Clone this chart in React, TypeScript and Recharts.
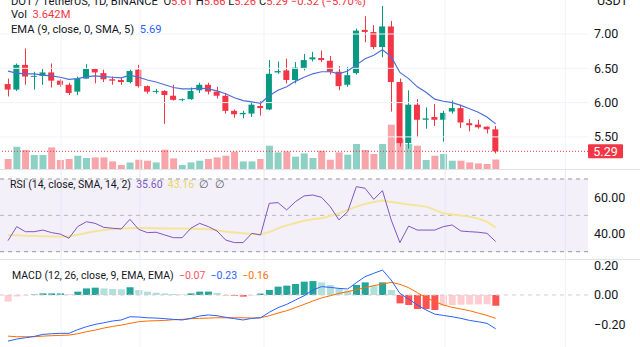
import React from 'react';
import { ComposedChart, Bar, Line, XAxis, YAxis, ReferenceLine, ReferenceArea, Cell } from 'recharts';

// DOT / USDT daily candles
const opens = [6.27, 6.19, 6.55, 6.38, 6.39, 6.44, 6.32, 6.26, 6.16, 6.35, 6.49, 6.43, 6.34, 6.33, 6.30, 6.48, 6.24, 6.16, 6.17, 6.10, 6.04, 6.05, 6.18, 6.26, 6.16, 6.10, 5.88, 5.83, 5.84, 5.95, 5.90, 6.44, 6.47, 6.33, 6.50, 6.63, 6.65, 6.61, 6.45, 6.26, 6.43, 7.06, 7.03, 6.81, 7.11, 6.30, 5.41, 5.97, 5.75, 5.79, 5.75, 5.87, 5.92, 5.70, 5.68, 5.65, 5.61];
const highs = [6.35, 6.57, 6.79, 6.45, 6.49, 6.57, 6.34, 6.29, 6.38, 6.56, 6.50, 6.48, 6.38, 6.37, 6.48, 6.55, 6.25, 6.20, 6.18, 6.26, 6.06, 6.22, 6.29, 6.29, 6.23, 6.14, 5.90, 5.88, 6.01, 6.02, 6.62, 6.60, 6.64, 6.59, 6.71, 6.74, 6.76, 6.68, 6.53, 6.52, 7.08, 7.26, 7.13, 7.41, 7.19, 6.35, 6.18, 6.05, 5.93, 5.98, 5.88, 6.03, 5.97, 5.76, 5.75, 5.65, 5.66];
const lows = [6.09, 6.17, 6.26, 6.19, 6.26, 6.22, 6.23, 6.11, 6.11, 6.35, 6.28, 6.30, 6.26, 6.26, 6.28, 6.22, 6.13, 6.13, 5.69, 6.03, 6.02, 6.04, 6.14, 6.12, 6.06, 5.84, 5.78, 5.77, 5.79, 5.81, 5.89, 6.42, 6.28, 6.28, 6.47, 6.60, 6.59, 6.41, 6.18, 6.23, 6.41, 6.88, 6.78, 6.66, 5.87, 5.36, 5.33, 5.50, 5.62, 5.66, 5.43, 5.84, 5.63, 5.58, 5.62, 5.55, 5.26];
const closes = [6.19, 6.55, 6.38, 6.39, 6.44, 6.32, 6.26, 6.14, 6.35, 6.49, 6.44, 6.34, 6.32, 6.30, 6.46, 6.24, 6.16, 6.17, 6.11, 6.04, 6.05, 6.17, 6.26, 6.16, 6.10, 5.88, 5.83, 5.85, 5.97, 5.92, 6.42, 6.46, 6.33, 6.51, 6.62, 6.66, 6.62, 6.45, 6.24, 6.40, 7.05, 7.03, 6.81, 7.11, 6.30, 5.41, 5.97, 5.75, 5.77, 5.75, 5.85, 5.92, 5.71, 5.67, 5.64, 5.61, 5.29];
// volume in millions
const volumes = [3.83, 8.54, 7.28, 5.36, 5.36, 8.27, 3.45, 3.83, 5.09, 4.21, 4.44, 4.44, 2.91, 1.53, 2.53, 3.56, 3.18, 2.53, 7.39, 4.06, 1.53, 2.53, 3.18, 3.83, 4.44, 5.09, 6.63, 2.91, 2.91, 3.83, 8.92, 6.36, 6.74, 4.71, 5.97, 4.21, 7.01, 3.56, 6.36, 5.48, 9.58, 7.28, 5.75, 9.58, 16.97, 11.49, 9.58, 8.92, 3.45, 5.09, 5.75, 3.18, 3.18, 2.53, 2.14, 1.92, 3.64];
const ema9 = [6.46, 6.43, 6.42, 6.42, 6.40, 6.39, 6.37, 6.34, 6.35, 6.38, 6.39, 6.38, 6.37, 6.36, 6.40, 6.37, 6.33, 6.30, 6.26, 6.22, 6.20, 6.20, 6.21, 6.20, 6.17, 6.13, 6.07, 6.03, 6.01, 5.99, 6.10, 6.18, 6.23, 6.31, 6.37, 6.42, 6.45, 6.45, 6.42, 6.46, 6.55, 6.64, 6.69, 6.77, 6.67, 6.44, 6.35, 6.23, 6.15, 6.05, 6.02, 6.00, 5.96, 5.91, 5.86, 5.79, 5.69];

const rsi = [36.1, 43.8, 41.0, 41.0, 41.9, 40.5, 39.7, 37.4, 43.8, 46.5, 45.6, 43.4, 42.9, 42.5, 47.8, 42.3, 40.5, 40.7, 39.2, 37.7, 37.7, 42.9, 45.6, 43.8, 41.4, 36.4, 35.0, 35.0, 40.1, 39.2, 56.6, 57.0, 53.0, 57.5, 60.7, 61.2, 59.9, 54.8, 47.5, 52.0, 65.8, 64.9, 58.8, 63.6, 47.5, 35.0, 44.1, 41.9, 41.9, 41.9, 43.8, 44.7, 41.4, 41.0, 40.7, 40.1, 35.6];
const rsiMa = [39.2, 39.0, 38.8, 38.6, 38.5, 38.4, 38.3, 38.5, 39.3, 40.3, 41.2, 41.9, 42.4, 42.8, 42.9, 43.0, 43.0, 42.9, 42.8, 42.8, 42.7, 42.6, 42.5, 42.3, 41.8, 41.0, 40.5, 40.1, 39.8, 39.5, 40.8, 42.8, 44.5, 45.8, 47.0, 47.8, 48.4, 49.6, 51.1, 53.0, 54.8, 56.2, 57.3, 58.1, 57.4, 56.6, 56.0, 55.4, 54.8, 53.0, 51.1, 50.5, 49.9, 49.3, 48.2, 46.5, 43.2];

const macdLine = [-0.314, -0.300, -0.291, -0.282, -0.268, -0.264, -0.261, -0.261, -0.236, -0.216, -0.200, -0.189, -0.177, -0.170, -0.148, -0.150, -0.155, -0.157, -0.161, -0.166, -0.170, -0.159, -0.143, -0.136, -0.141, -0.152, -0.161, -0.170, -0.159, -0.155, -0.118, -0.086, -0.064, -0.034, -0.005, 0.034, 0.057, 0.052, 0.045, 0.041, 0.084, 0.125, 0.148, 0.170, 0.102, 0.011, -0.027, -0.068, -0.102, -0.130, -0.139, -0.148, -0.159, -0.173, -0.182, -0.193, -0.230];
const signalLine = [-0.280, -0.284, -0.284, -0.284, -0.280, -0.277, -0.275, -0.273, -0.264, -0.250, -0.239, -0.225, -0.214, -0.205, -0.193, -0.182, -0.177, -0.175, -0.173, -0.168, -0.166, -0.161, -0.159, -0.157, -0.155, -0.155, -0.155, -0.155, -0.157, -0.155, -0.141, -0.123, -0.107, -0.086, -0.064, -0.041, -0.020, -0.005, 0.011, 0.023, 0.036, 0.050, 0.064, 0.075, 0.086, 0.073, 0.050, 0.016, -0.018, -0.045, -0.068, -0.084, -0.095, -0.107, -0.123, -0.139, -0.159];
const macdHist = [-0.045, -0.010, -0.003, 0.003, 0.011, 0.011, 0.011, 0.005, 0.023, 0.045, 0.050, 0.045, 0.041, 0.039, 0.052, 0.034, 0.023, 0.016, 0.011, 0.007, 0.003, 0.011, 0.023, 0.023, 0.014, -0.002, -0.005, -0.011, -0.004, 0.010, 0.034, 0.057, 0.064, 0.075, 0.091, 0.095, 0.086, 0.068, 0.045, 0.030, 0.068, 0.086, 0.064, 0.086, 0.034, -0.057, -0.068, -0.095, -0.095, -0.102, -0.073, -0.068, -0.066, -0.065, -0.064, -0.063, -0.073];

const priceTicks = [5.5, 6.0, 6.5, 7.0];
const rsiTicks = [40, 60];
const macdTicks = [-0.2, 0, 0.2];
const rsiLevels = [70, 50, 30];
// time grid (bar index positions of the faint vertical lines)
const timeGrid = [6.1, 15.15, 29.4, 50.2, 64];

const UP = '#089981';
const DOWN = '#F23645';
const FONT = 'Roboto, "Noto Sans", sans-serif';
const TEXT = '#131722';
const GRID = '#F0F3FA';
const X_DOMAIN: [number, number] = [-0.919, 66.6];

const data = closes.map((c, i) => ({
  i,
  o: opens[i],
  h: highs[i],
  l: lows[i],
  c,
  range: [lows[i], highs[i]],
  vol: volumes[i],
  ema: ema9[i],
  rsi: rsi[i],
  rsiMa: rsiMa[i],
  macd: macdLine[i],
  signal: signalLine[i],
  hist: macdHist[i],
}));

const histColor = (i: number) => {
  const v = macdHist[i];
  const prev = i > 0 ? macdHist[i - 1] : null;
  if (v >= 0) return prev !== null && v >= prev ? '#26A69A' : '#B2DFDB';
  return prev !== null && v <= prev ? '#FF5252' : '#FFCDD2';
};

const Candle = (props: any) => {
  const { x, y, width, height, payload } = props;
  if (x == null || !payload) return null;
  const { o, h, l, c } = payload;
  const top = Math.min(y, y + height);
  const hh = Math.abs(height);
  const py = (p: number) => top + ((h - p) / (h - l)) * hh;
  const color = c >= o ? UP : DOWN;
  const cx = Math.round(x + width / 2) + 0.5;
  const bTop = py(Math.max(o, c));
  const bBot = py(Math.min(o, c));
  return (
    <g>
      <line x1={cx} x2={cx} y1={top} y2={top + hh} stroke={color} strokeWidth={1} />
      <rect x={x} y={bTop} width={width} height={Math.max(1, bBot - bTop)} fill={color} />
    </g>
  );
};

const lastClose = closes[closes.length - 1];

const PriceBadge = (props: any) => {
  const vb = props.viewBox || {};
  const x = (vb.x ?? 0) + (vb.width ?? 0);
  const y = vb.y ?? 0;
  return (
    <g>
      <rect x={x} y={y - 7} width={35} height={14} fill={DOWN} rx={1} />
      <text x={x + 17.5} y={y + 4.5} textAnchor="middle" fill="#fff" fontSize={12.5} fontFamily={FONT}>
        {lastClose.toFixed(2)}
      </text>
    </g>
  );
};

const axisTick = { fill: TEXT, fontSize: 12.5, fontFamily: FONT };
const fmt = (v: number) => (v < 0 ? '\u2212' + Math.abs(v).toFixed(2) : v.toFixed(2));

const legend: React.CSSProperties = {
  position: 'absolute',
  left: 11,
  fontSize: 11.2,
  lineHeight: '14px',
  color: TEXT,
  fontFamily: FONT,
  whiteSpace: 'nowrap',
};

function Pane({ top, height, children }: { top: number; height: number; children: React.ReactNode }) {
  return <div style={{ position: 'absolute', left: 0, top, width: 640, height }}>{children}</div>;
}

export default function App() {
  return (
    <div style={{ position: 'absolute', left: 0, top: 0, width: 640, height: 347, overflow: 'hidden', background: '#fff' }}>
      <Pane top={0} height={169}>
        <ComposedChart width={640} height={169} data={data} margin={{ top: 0, right: 0, left: 0, bottom: 0 }}>
          <XAxis xAxisId="p" type="number" dataKey="i" domain={X_DOMAIN} allowDataOverflow hide />
          <XAxis xAxisId="v" type="number" dataKey="i" domain={X_DOMAIN} allowDataOverflow hide />
          <YAxis yAxisId="p" orientation="right" width={52} domain={[5.032, 7.496]} allowDataOverflow ticks={priceTicks}
            tickFormatter={fmt} tick={axisTick} tickLine={false} axisLine={false} tickSize={0} tickMargin={6} />
          <YAxis yAxisId="v" hide domain={[0, 64.7]} allowDataOverflow />
          {timeGrid.map((t) => (
            <ReferenceLine key={'t' + t} xAxisId="p" yAxisId="p" x={t} stroke={GRID} />
          ))}
          {priceTicks.map((t) => (
            <ReferenceLine key={'g' + t} xAxisId="p" yAxisId="p" y={t} stroke={GRID} />
          ))}
          <Bar xAxisId="v" yAxisId="v" dataKey="vol" barSize={7} isAnimationActive={false}>
            {data.map((d, i) => (
              <Cell key={i} fill={d.c >= d.o ? '#8FD0C5' : '#F7A5AA'} />
            ))}
          </Bar>
          <ReferenceLine xAxisId="p" yAxisId="p" y={lastClose} stroke={DOWN} strokeDasharray="1 2" label={<PriceBadge />} />
          <Bar xAxisId="p" yAxisId="p" dataKey="range" barSize={6} shape={<Candle />} isAnimationActive={false} />
          <Line xAxisId="p" yAxisId="p" dataKey="ema" stroke="#4C6FD9" strokeWidth={1.2} dot={false} activeDot={false} isAnimationActive={false} />
        </ComposedChart>
      </Pane>

      <Pane top={170} height={88}>
        <ComposedChart width={640} height={88} data={data} margin={{ top: 0, right: 0, left: 0, bottom: 0 }}>
          <XAxis type="number" dataKey="i" domain={X_DOMAIN} allowDataOverflow hide />
          <YAxis orientation="right" width={52} domain={[26.53, 74.95]} allowDataOverflow ticks={rsiTicks}
            tickFormatter={fmt} tick={axisTick} tickLine={false} axisLine={false} tickSize={0} tickMargin={6} />
          <ReferenceArea y1={30} y2={70} fill="#7E57C2" fillOpacity={0.09} stroke="none" />
          {timeGrid.map((t) => (
            <ReferenceLine key={'t' + t} x={t} stroke="#E9E6F3" />
          ))}
          {rsiLevels.map((lv) => (
            <ReferenceLine key={lv} y={lv} stroke={lv === 50 ? '#B4B6BE' : '#9598A1'} strokeDasharray="4 4" />
          ))}
          <Line dataKey="rsiMa" stroke="#F5E59A" strokeWidth={2} dot={false} activeDot={false} isAnimationActive={false} />
          <Line dataKey="rsi" stroke="#7E57C2" strokeWidth={1} dot={false} activeDot={false} isAnimationActive={false} />
        </ComposedChart>
      </Pane>

      <Pane top={258} height={89}>
        <ComposedChart width={640} height={89} data={data} margin={{ top: 0, right: 0, left: 0, bottom: 0 }}>
          <XAxis type="number" dataKey="i" domain={X_DOMAIN} allowDataOverflow hide />
          <YAxis orientation="right" width={52} domain={[-0.354, 0.252]} allowDataOverflow ticks={macdTicks}
            tickFormatter={fmt} tick={axisTick} tickLine={false} axisLine={false} tickSize={0} tickMargin={6} />
          {timeGrid.map((t) => (
            <ReferenceLine key={'t' + t} x={t} stroke={GRID} />
          ))}
          <ReferenceLine y={0} stroke="#D9C9CD" strokeDasharray="4 4" />
          <Bar dataKey="hist" barSize={7} isAnimationActive={false}>
            {data.map((_, i) => (
              <Cell key={i} fill={histColor(i)} />
            ))}
          </Bar>
          <Line dataKey="signal" stroke="#FF6D00" strokeWidth={1} dot={false} activeDot={false} isAnimationActive={false} />
          <Line dataKey="macd" stroke="#2962FF" strokeWidth={1} dot={false} activeDot={false} isAnimationActive={false} />
        </ComposedChart>
      </Pane>

      <div style={{ position: 'absolute', left: 0, top: 169, width: 640, height: 1, background: '#E0E3EB' }} />
      <div style={{ position: 'absolute', left: 0, top: 259, width: 640, height: 1, background: '#E0E3EB' }} />

      <div style={{ ...legend, top: -5 }}>
        DOT / TetherUS, 1D, BINANCE&nbsp;&nbsp;O<span style={{ color: DOWN }}>5.61</span> H<span style={{ color: DOWN }}>5.66</span> L
        <span style={{ color: DOWN }}>5.26</span> C<span style={{ color: DOWN }}>5.29</span>{' '}
        <span style={{ color: DOWN }}>−0.32 (−5.70%)</span>
      </div>
      <div style={{ ...legend, top: 8 }}>
        Vol&nbsp;&nbsp;<span style={{ color: DOWN }}>3.642M</span>
      </div>
      <div style={{ ...legend, top: 23 }}>
        EMA (9, close, 0, SMA, 5)&nbsp;&nbsp;<span style={{ color: '#2962FF' }}>5.69</span>
      </div>
      <div style={{ ...legend, left: 597, top: -6, fontSize: 12.5 }}>USDT</div>
      <div style={{ ...legend, top: 178, fontSize: 10.5, left: 10 }}>
        RSI (14, close, SMA, 14, 2)&nbsp;&nbsp;<span style={{ color: '#7E57C2' }}>35.60</span>&nbsp;&nbsp;
        <span style={{ color: '#E8D66A' }}>43.16</span>&nbsp;&nbsp;<span style={{ color: '#5d606b' }}>∅&nbsp;&nbsp;∅</span>
      </div>
      <div style={{ ...legend, top: 269, fontSize: 10.5, left: 12 }}>
        MACD (12, 26, close, 9, EMA, EMA)&nbsp;&nbsp;<span style={{ color: '#F7525F' }}>−0.07</span>&nbsp;&nbsp;
        <span style={{ color: '#2962FF' }}>−0.23</span>&nbsp;&nbsp;<span style={{ color: '#FF6D00' }}>−0.16</span>
      </div>
    </div>
  );
}
